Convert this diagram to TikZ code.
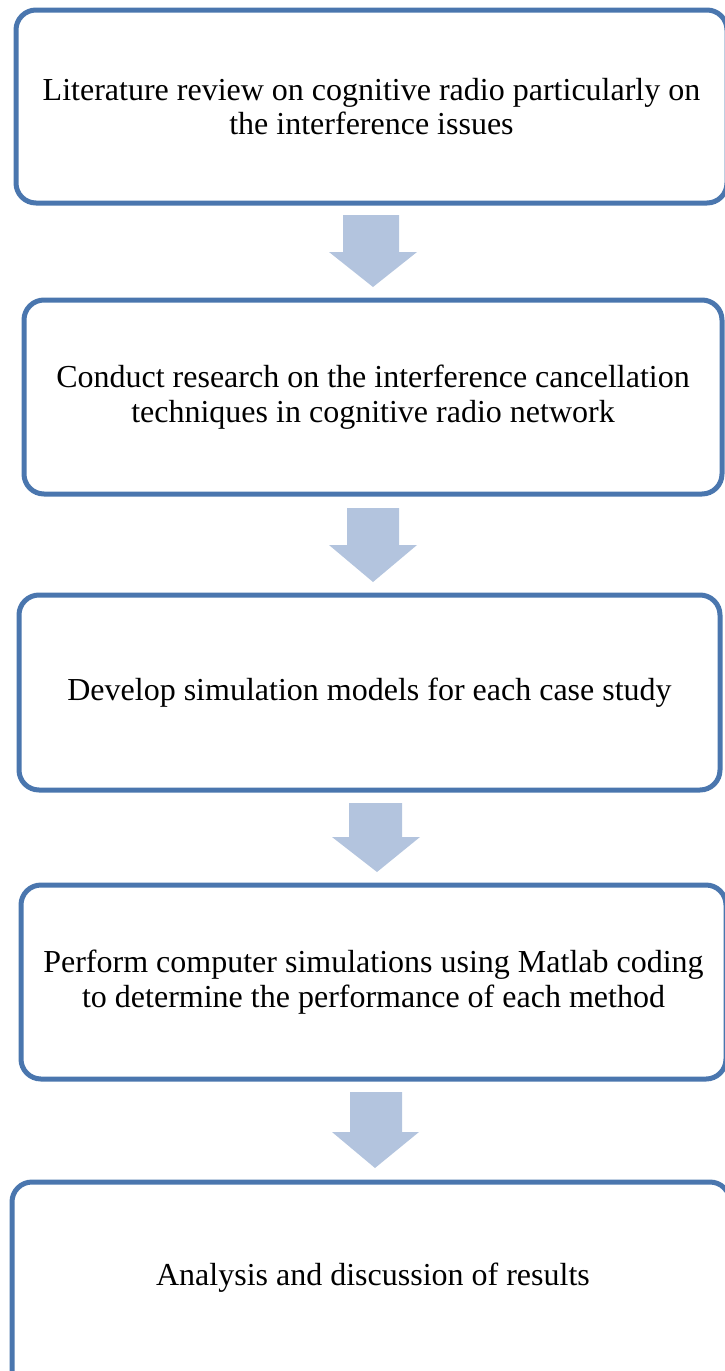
\documentclass[tikz,border=0pt]{standalone}
\usepackage{fontspec}
\setmainfont{Liberation Serif}
\definecolor{boxblue}{RGB}{74,118,174}
\definecolor{arrowblue}{RGB}{179,196,222}
\begin{document}
\begin{tikzpicture}[x=1pt,y=-1pt,
  txt/.style={align=center, font=\fontsize{32}{34.5}\selectfont, inner sep=0pt},
  box/.style={draw=boxblue, line width=5pt, rounded corners=20pt, inner sep=0pt, txt},
  blockarrow/.style={fill=arrowblue, draw=none}]
\useasboundingbox (0,0) rectangle (724,1371);
\node[box, minimum width=711pt, minimum height=193pt] (b1) at (371.5,106.5)
  {Literature review on cognitive radio particularly on\\the interference issues};
\node[box, minimum width=698pt, minimum height=194pt] (b2) at (373,397)
  {Conduct research on the interference cancellation\\techniques in cognitive radio network};
\node[box, minimum width=701pt, minimum height=195pt] (b3) at (369.5,692.5)
  {Develop simulation models for each case study};
\node[box, minimum width=705pt, minimum height=194pt] (b4) at (373.5,982)
  {Perform computer simulations using Matlab coding\\to determine the performance of each method};
\node[box, minimum width=718pt, minimum height=230pt] (b5) at (371,1297) {};
\node[txt] (t5) at (373,1278) {Analysis and discussion of results};
% block arrows between boxes
\fill[blockarrow] (343,215) -- (399,215) -- (399,252) -- (417,252) -- (373,287) -- (329,252) -- (343,252) -- cycle;
\fill[blockarrow] (347,508) -- (399,508) -- (399,545) -- (417,545) -- (373,582) -- (329,545) -- (347,545) -- cycle;
\fill[blockarrow] (349,803) -- (402,803) -- (402,837) -- (420,837) -- (377,872) -- (332,837) -- (349,837) -- cycle;
\fill[blockarrow] (350,1092) -- (402,1092) -- (402,1132) -- (419,1132) -- (375,1168) -- (332,1132) -- (350,1132) -- cycle;
\end{tikzpicture}
\end{document}
